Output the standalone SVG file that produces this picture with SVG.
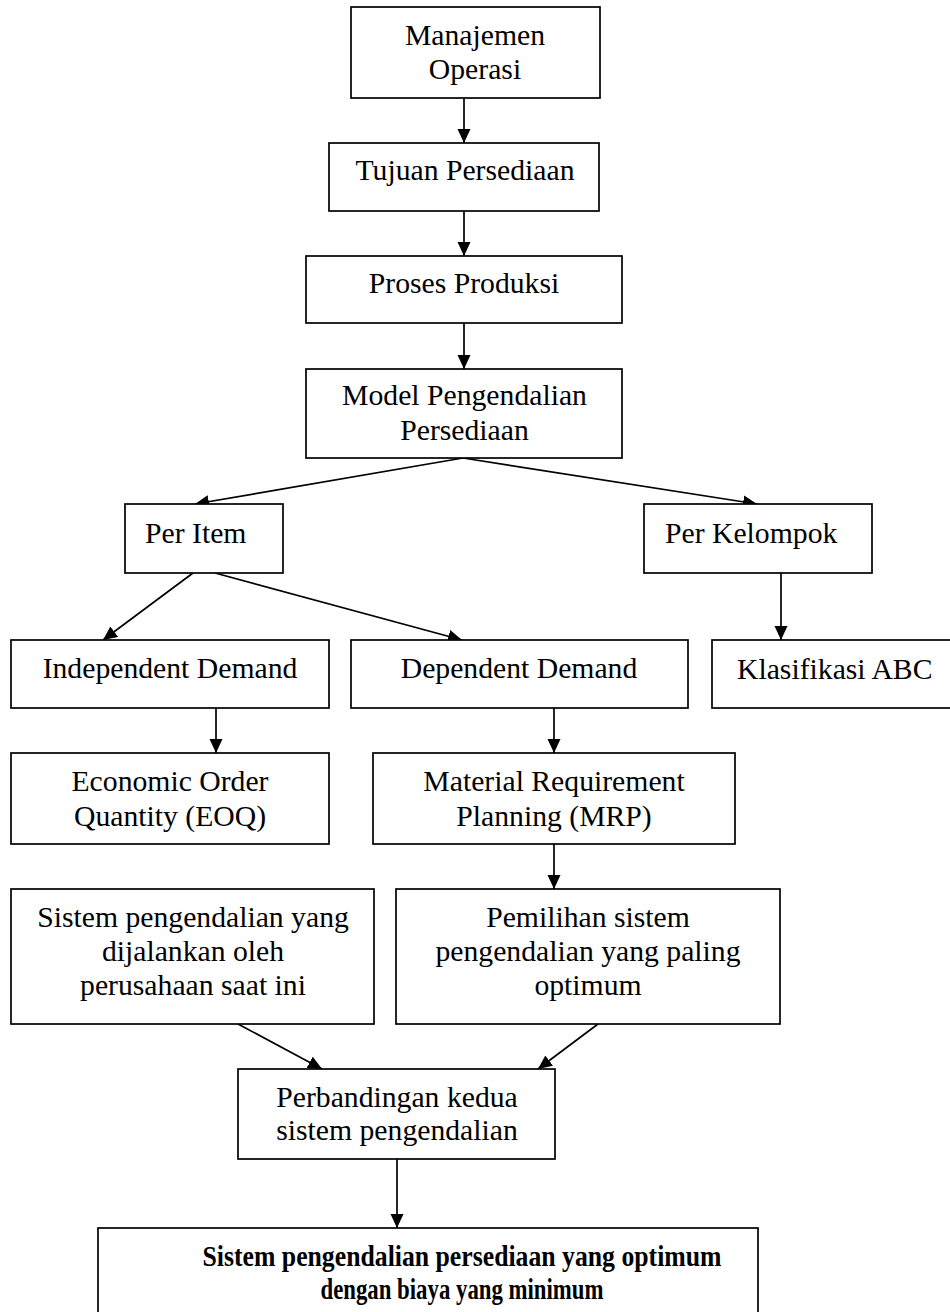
<svg xmlns="http://www.w3.org/2000/svg" width="950" height="1312" viewBox="0 0 950 1312">
<style>
.box{fill:#fff;stroke:#000;stroke-width:1.7}
.t{font-family:"Liberation Serif","Times New Roman",serif;font-size:29.7px;fill:#000}
.c{text-anchor:middle}
.b{font-weight:bold;font-size:29.5px}
.ln{stroke:#000;stroke-width:1.7;fill:none;marker-end:url(#ah)}
</style>
<defs>
<marker id="ah" markerUnits="userSpaceOnUse" markerWidth="15" markerHeight="14" refX="14" refY="6.5" orient="auto">
<path d="M0,0 L14,6.5 L0,13 z" fill="#000"/>
</marker>
</defs>
<rect width="950" height="1312" fill="#fff"/>
<g id="connectors">
<line class="ln" x1="464" y1="98" x2="464" y2="143"/>
<line class="ln" x1="464" y1="211" x2="464" y2="256"/>
<line class="ln" x1="464" y1="323" x2="464" y2="369"/>
<line class="ln" x1="463" y1="458" x2="195" y2="504"/>
<line class="ln" x1="463" y1="458" x2="757" y2="504"/>
<line class="ln" x1="193" y1="573" x2="103" y2="640"/>
<line class="ln" x1="215" y1="573" x2="462" y2="640"/>
<line class="ln" x1="781" y1="573" x2="781" y2="640"/>
<line class="ln" x1="216" y1="708" x2="216" y2="753"/>
<line class="ln" x1="554" y1="708" x2="554" y2="753"/>
<line class="ln" x1="554" y1="844" x2="554" y2="889"/>
<line class="ln" x1="238" y1="1024" x2="322" y2="1069"/>
<line class="ln" x1="598" y1="1024" x2="538" y2="1069"/>
<line class="ln" x1="397" y1="1159" x2="397" y2="1228"/>
</g>
<g id="manajemen">
<rect class="box" x="351" y="7" width="249" height="91"/>
<text class="t c" x="475" y="45">Manajemen</text>
<text class="t c" x="475" y="79">Operasi</text>
</g>
<g id="tujuan">
<rect class="box" x="329" y="143" width="270" height="68"/>
<text class="t c" x="465" y="180">Tujuan Persediaan</text>
</g>
<g id="proses">
<rect class="box" x="306" y="256" width="316" height="67"/>
<text class="t c" x="464" y="293">Proses Produksi</text>
</g>
<g id="model">
<rect class="box" x="306" y="369" width="316" height="89"/>
<text class="t c" x="464.5" y="405">Model Pengendalian</text>
<text class="t c" x="464.5" y="440">Persediaan</text>
</g>
<g id="per-item">
<rect class="box" x="125" y="504" width="158" height="69"/>
<text class="t" x="145" y="543">Per Item</text>
</g>
<g id="per-kelompok">
<rect class="box" x="644" y="504" width="228" height="69"/>
<text class="t" x="665" y="543">Per Kelompok</text>
</g>
<g id="independent">
<rect class="box" x="11" y="640" width="318" height="68"/>
<text class="t c" x="170" y="678">Independent Demand</text>
</g>
<g id="dependent">
<rect class="box" x="351" y="640" width="337" height="68"/>
<text class="t c" x="519" y="678">Dependent Demand</text>
</g>
<g id="klasifikasi">
<rect class="box" x="712" y="640" width="245" height="68"/>
<text class="t" x="737" y="679">Klasifikasi ABC</text>
</g>
<g id="eoq">
<rect class="box" x="11" y="753" width="318" height="91"/>
<text class="t c" x="170" y="791">Economic Order</text>
<text class="t c" x="170" y="826">Quantity (EOQ)</text>
</g>
<g id="mrp">
<rect class="box" x="373" y="753" width="362" height="91"/>
<text class="t c" x="554" y="791">Material Requirement</text>
<text class="t c" x="554" y="826">Planning (MRP)</text>
</g>
<g id="sistem-saat-ini">
<rect class="box" x="11" y="889" width="363" height="135"/>
<text class="t c" x="193" y="927">Sistem pengendalian yang</text>
<text class="t c" x="193" y="961">dijalankan oleh</text>
<text class="t c" x="193" y="995">perusahaan saat ini</text>
</g>
<g id="pemilihan">
<rect class="box" x="396" y="889" width="384" height="135"/>
<text class="t c" x="588" y="927">Pemilihan sistem</text>
<text class="t c" x="588" y="961">pengendalian yang paling</text>
<text class="t c" x="588" y="995">optimum</text>
</g>
<g id="perbandingan">
<rect class="box" x="238" y="1069" width="317" height="90"/>
<text class="t c" x="397" y="1107">Perbandingan kedua</text>
<text class="t c" x="397" y="1140">sistem pengendalian</text>
</g>
<g id="hasil">
<rect class="box" x="98" y="1228" width="660" height="100"/>
<text class="t b c" x="462" y="1266" textLength="519" lengthAdjust="spacingAndGlyphs">Sistem pengendalian persediaan yang optimum</text>
<text class="t b c" x="462" y="1299" textLength="283" lengthAdjust="spacingAndGlyphs">dengan biaya yang minimum</text>
</g>
</svg>
